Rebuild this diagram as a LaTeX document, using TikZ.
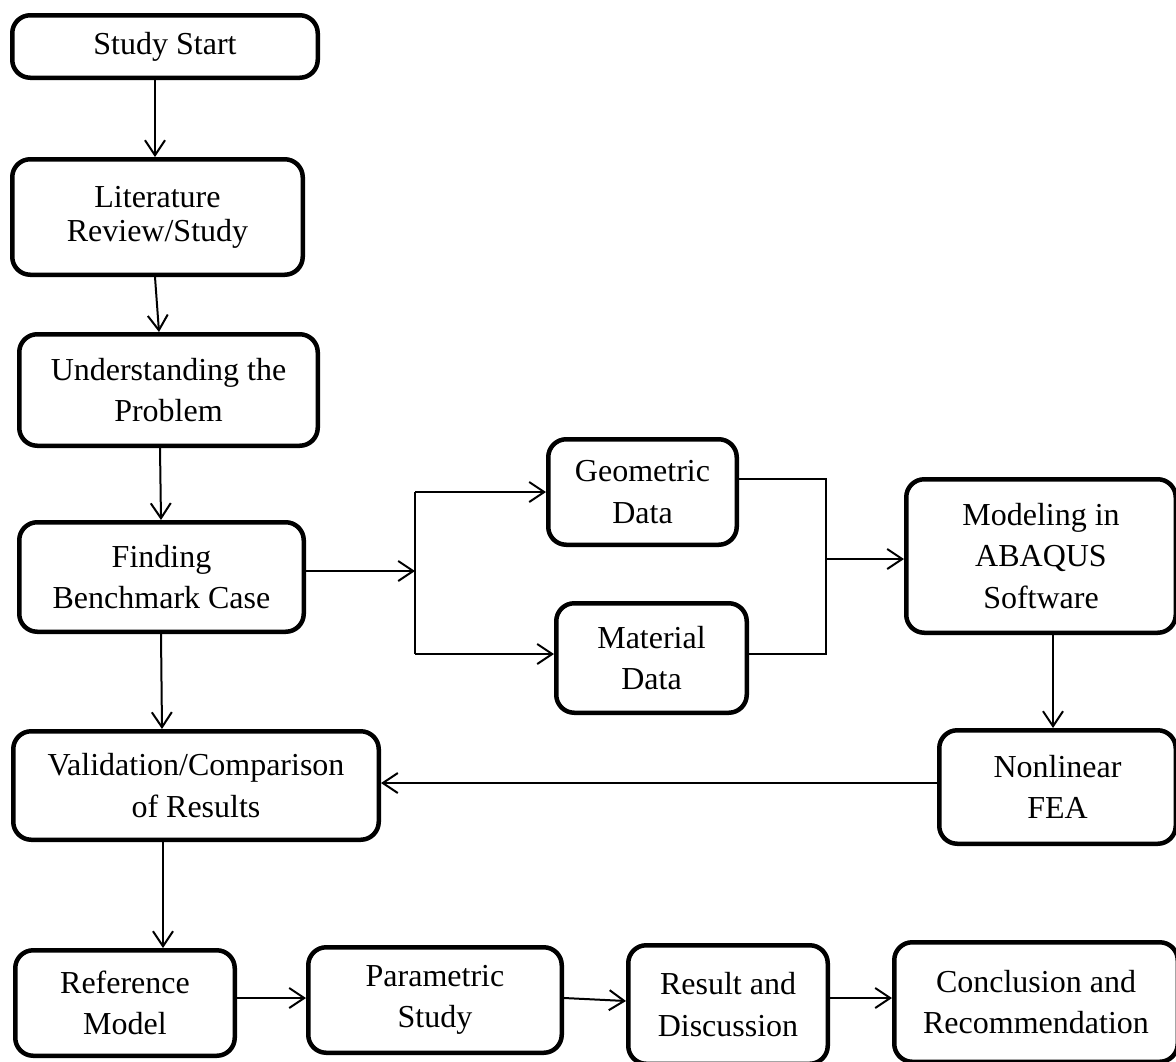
\documentclass[tikz,border=0pt]{standalone}
\usepackage{fontspec}
\setmainfont{Liberation Serif}
\usetikzlibrary{arrows.meta,positioning,calc}
\tikzset{stage/.style={draw=black,line width=4.5pt,rounded corners=18pt,align=center,inner sep=0pt,fill=white,font=\fontsize{32}{41.5}\selectfont},flow/.style={-{Straight Barb[length=15pt,width=20pt]},line width=2pt,draw=black},bus/.style={line width=1.5pt,draw=black}}

\begin{document}
\begin{tikzpicture}[x=1pt,y=-1pt]
\useasboundingbox (0,0) rectangle (1176,1061);
\clip (0,0) rectangle (1176,1061);
\node[stage,minimum width=305.5pt,minimum height=62.5pt](start) at (165,46.5){Study Start};
\node[stage,minimum width=290.5pt,minimum height=115.5pt,font=\fontsize{32}{34}\selectfont](lit) at (157.5,217){Literature\\Review/Study};
\node[stage,minimum width=298.5pt,minimum height=111.5pt](und) at (168.5,390){Understanding the\\Problem};
\node[stage,minimum width=284.5pt,minimum height=109.5pt](find) at (161.5,577){Finding\\Benchmark Case};
\node[stage,minimum width=188.5pt,minimum height=105.5pt](geo) at (642.5,492){Geometric\\Data};
\node[stage,minimum width=190.5pt,minimum height=109.5pt](mat) at (651.5,658){Material\\Data};
\node[stage,minimum width=269.5pt,minimum height=153.5pt](model) at (1041,556){Modeling in\\ABAQUS\\Software};
\node[stage,minimum width=236.5pt,minimum height=113.5pt](fea) at (1057.5,787){Nonlinear\\FEA};
\node[stage,minimum width=365.5pt,minimum height=108.5pt](valid) at (196,785.5){Validation/Comparison\\of Results};
\node[stage,minimum width=219.5pt,minimum height=105.5pt](ref) at (125,1003){Reference\\Model};
\node[stage,minimum width=253.5pt,minimum height=105.5pt](param) at (435,1000){Parametric\\Study};
\node[stage,minimum width=199.5pt,minimum height=118.5pt](result) at (728,1004.5){Result and\\Discussion};
\node[stage,minimum width=283.5pt,minimum height=119.5pt](concl) at (1036,1002){Conclusion and\\Recommendation};
\coordinate (split) at (415,571);
\coordinate (merge) at (826,559);
\coordinate (matin) at ([yshift=4pt]mat.west);
\coordinate (matout) at ([yshift=4pt]mat.east);
\coordinate (feain) at ([xshift=-4.5pt]fea.north);
\draw[flow]([xshift=-10pt]start.south)--([xshift=-2.5pt]lit.north);
\draw[flow]([xshift=-2.5pt]lit.south)--([xshift=-9.5pt]und.north);
\draw[flow]([xshift=-8.5pt]und.south)--([xshift=-0.5pt]find.north);
\draw[flow]([xshift=-0.5pt]find.south)--([xshift=-34pt]valid.north);
\draw[flow]([xshift=-33pt]valid.south)--([xshift=38pt]ref.north);
\draw[flow]([yshift=5pt]ref.east)--([yshift=2pt]param.west);
\draw[flow]([yshift=2pt]param.east)--([yshift=3.5pt]result.west);
\draw[flow]([yshift=6.5pt]result.east)--([yshift=4pt]concl.west);
\draw[flow]([yshift=6pt]find.east)--(split);
\draw[bus](split|-geo.west)--(split|-matin);
\draw[flow](split|-geo.west)--(geo.west);
\draw[flow](split|-matin)--(matin);
\draw[bus]([yshift=13pt]geo.east)-|(merge)|-(matout);
\draw[flow](merge)--(merge-|model.west);
\draw[flow](feain|-model.south)--(feain);
\draw[flow]([yshift=4pt]fea.west)--([yshift=2.5pt]valid.east);
\end{tikzpicture}
\end{document}
